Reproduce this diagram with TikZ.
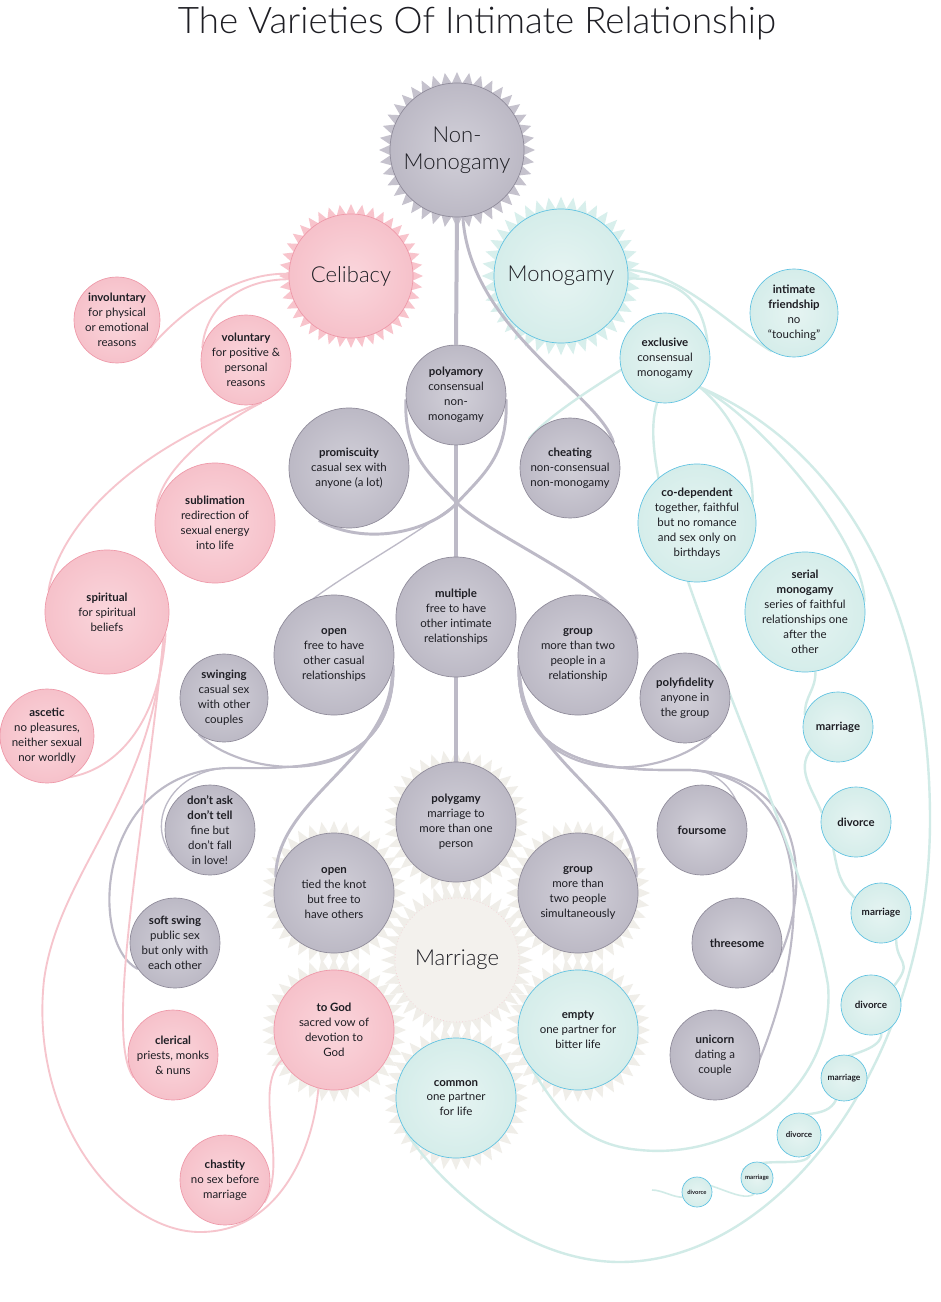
\documentclass[tikz,border=0pt]{standalone}
\usepackage{fontspec}
\setmainfont{Lato}
\newfontfamily\lightfont{Lato Light}
\usetikzlibrary{shapes.geometric}

\definecolor{ink}{HTML}{1E1E24}
\definecolor{grayin}{HTML}{D2D0D9}
\definecolor{grayout}{HTML}{BCB9C5}
\definecolor{grayedge}{HTML}{8E8A99}
\definecolor{grayline}{HTML}{BDBAC7}
\definecolor{grayburst}{HTML}{C5C2CD}
\definecolor{pinkin}{HTML}{FAD6DC}
\definecolor{pinkout}{HTML}{F6C1CA}
\definecolor{pinkedge}{HTML}{EE98A8}
\definecolor{pinkline}{HTML}{F6C5CD}
\definecolor{pinkburst}{HTML}{F8C4CC}
\definecolor{tealin}{HTML}{E6F4F2}
\definecolor{tealout}{HTML}{D5EDEA}
\definecolor{tealedge}{HTML}{5EC2E2}
\definecolor{tealline}{HTML}{D1EBE7}
\definecolor{tealburst}{HTML}{D8EFEC}
\definecolor{beige}{HTML}{F3F1ED}
\definecolor{beigeburst}{HTML}{F0EEE9}

\pgfdeclarelayer{bursts}
\pgfdeclarelayer{links}
\pgfsetlayers{bursts,links,main}

\begin{document}
\begin{tikzpicture}[x=0.75pt,y=-0.75pt,
bub/.style={circle,inner sep=0pt,align=center,text=ink,minimum size=#1*1.5pt,font=\fontsize{8.6}{11.2}\selectfont},
gbub/.style={bub=#1,draw=grayedge,line width=0.5pt,inner color=grayin,outer color=grayout},
pbub/.style={bub=#1,draw=pinkedge,line width=0.5pt,inner color=pinkin,outer color=pinkout},
tbub/.style={bub=#1,draw=tealedge,line width=0.5pt,inner color=tealin,outer color=tealout},
bigtxt/.style={font=\lightfont\fontsize{16.5}{20}\selectfont},
boldtxt/.style={font=\fontsize{#1}{#1}\selectfont\bfseries},
burst/.style={star,star points=40,star point ratio=1.17,inner sep=0pt,draw=none,fill=#1},
gl/.style={draw=grayline,line width=2.2pt},
glt/.style={draw=grayline,line width=1pt},
pl/.style={draw=pinkline,line width=1.4pt},
tl/.style={draw=tealline,line width=1.8pt}]
\useasboundingbox (0,0) rectangle (940,1302);

\node[text=ink,font=\lightfont\fontsize{27.5}{30}\selectfont] (title) at (477,23) {The Varieties Of Intimate Relationship};

% main families
\node[gbub=67,bigtxt] (nonmono) at (457,150) {Non-\\Monogamy};
\node[pbub=62,bigtxt] (celib) at (351,276) {Celibacy};
\node[tbub=67,bigtxt] (mono) at (561,276) {Monogamy};
\node[bub=62,bigtxt,fill=beige,draw=pinkedge!60,dotted,line width=0.4pt] (marr) at (457,960) {Marriage};

% celibacy side
\node[pbub=43] (invol) at (117,320) {\textbf{involuntary}\\for physical\\or emotional\\reasons};
\node[pbub=45] (volun) at (246,360) {\textbf{voluntary}\\for positive \&\\personal\\reasons};
\node[pbub=60] (sublim) at (215,523) {\textbf{sublimation}\\redirection of\\sexual energy\\into life};
\node[pbub=62] (spirit) at (107,612) {\textbf{spiritual}\\for spiritual\\beliefs};
\node[pbub=47] (ascet) at (47,736) {\textbf{ascetic}\\no pleasures,\\neither sexual\\nor worldly};
\node[pbub=60] (god) at (334,1030) {\textbf{to God}\\sacred vow of\\devotion to\\God};
\node[pbub=45] (cleric) at (173,1055) {\textbf{clerical}\\priests, monks\\\& nuns};
\node[pbub=45] (chast) at (225,1180) {\textbf{chastity}\\no sex before\\marriage};

% non-monogamy side
\node[gbub=50] (polyam) at (456,395) {\textbf{polyamory}\\consensual\\non-\\monogamy};
\node[gbub=60] (promis) at (349,468) {\textbf{promiscuity}\\casual sex with\\anyone (a lot)};
\node[gbub=50] (cheat) at (570,468) {\textbf{cheating}\\non-consensual\\non-monogamy};
\node[gbub=60] (multi) at (456,617) {\textbf{multiple}\\free to have\\other intimate\\relationships};
\node[gbub=60] (openA) at (334,655) {\textbf{open}\\free to have\\other casual\\relationships};
\node[gbub=60] (groupA) at (578,655) {\textbf{group}\\more than two\\people in a\\relationship};
\node[gbub=44] (swing) at (224,698) {\textbf{swinging}\\casual sex\\with other\\couples};
\node[gbub=45] (polyfid) at (685,698) {\textbf{polyfidelity}\\anyone in\\the group};
\node[gbub=45] (dadt) at (210,830) {\textbf{don’t ask}\\\textbf{don’t tell}\\fine but\\don’t fall\\in love!};
\node[gbub=60] (polyg) at (456,822) {\textbf{polygamy}\\marriage to\\more than one\\person};
\node[gbub=45] (four) at (702,830) {\textbf{foursome}};
\node[gbub=60] (openB) at (334,893) {\textbf{open}\\tied the knot\\but free to\\have others};
\node[gbub=60] (groupB) at (578,893) {\textbf{group}\\more than\\two people\\simultaneously};
\node[gbub=45] (soft) at (175,943) {\textbf{soft swing}\\public sex\\but only with\\each other};
\node[gbub=45] (three) at (737,943) {\textbf{threesome}};
\node[gbub=45] (unicorn) at (715,1055) {\textbf{unicorn}\\dating a\\couple};

% monogamy side
\node[tbub=44] (friend) at (794,313) {\textbf{intimate}\\\textbf{friendship}\\no\\“touching”};
\node[tbub=45] (exclus) at (665,358) {\textbf{exclusive}\\consensual\\monogamy};
\node[tbub=59] (codep) at (697,523) {\textbf{co-dependent}\\together, faithful\\but no romance\\and sex only on\\birthdays};
\node[tbub=60] (serial) at (805,612) {\textbf{serial}\\\textbf{monogamy}\\series of faithful\\relationships one\\after the\\other};
\node[tbub=60] (empty) at (578,1030) {\textbf{empty}\\one partner for\\bitter life};
\node[tbub=60] (common) at (456,1098) {\textbf{common}\\one partner\\for life};
\node[tbub=35,boldtxt=8.5] (marA) at (838,727) {marriage};
\node[tbub=35,boldtxt=8.5] (divA) at (856,822) {divorce};
\node[tbub=30,boldtxt=7.4] (marB) at (881,913) {marriage};
\node[tbub=30,boldtxt=7.4] (divB) at (871,1005) {divorce};
\node[tbub=23,boldtxt=6.3] (marC) at (844,1078) {marriage};
\node[tbub=22,boldtxt=6] (divC) at (799,1135) {divorce};
\node[tbub=16,boldtxt=4.6] (marD) at (757,1178) {marriage};
\node[tbub=15,boldtxt=4.4] (divD) at (697,1192) {divorce};

\begin{pgfonlayer}{bursts}
\fill[white] (0,0) rectangle (940,1302);
\node[burst=grayburst,minimum size=117pt] at (nonmono) {};
\node[burst=pinkburst,minimum size=108pt] at (celib) {};
\node[burst=tealburst,minimum size=119pt,star point ratio=1.18] at (mono) {};
\foreach \n in {polyg,openB,groupB,god,empty,common}
  \node[burst=beigeburst,minimum size=108pt,star points=36,star point ratio=1.2] at (\n) {};
\node[burst=beigeburst,minimum size=114pt,star point ratio=1.22] at (marr) {};
\end{pgfonlayer}

\begin{pgfonlayer}{links}
\coordinate (cross) at (457,503);
\coordinate (openfork) at (230,768);
\coordinate (groupfork) at (690,770);
\coordinate (pinkbend) at (44,980);
\coordinate (pinkfoot) at (200,1232);
\coordinate (tealright) at (930,820);
\coordinate (tealfoot) at (620,1262);
\coordinate (tealbend) at (828,985);
\coordinate (tealdip) at (640,1150);
\coordinate (tail) at (652,1190);

% non-monogamy links
\draw[gl,line width=3pt] (nonmono.south) -- (polyam.north);
\draw[gl,line width=3pt] (polyam.south) -- (multi.north);
\draw[gl,line width=3pt] (multi.south) -- (polyg.north);
\draw[gl] (nonmono.-85) .. controls +(7,113) and +(-13,-48) .. (cheat.30);
\draw[gl] (polyam.-5) .. controls +(2,55) and +(28,-30) .. (cross) .. controls +(-28,30) and +(45,26) .. (promis.-120);
\draw[gl] (polyam.185) .. controls +(-2,55) and +(-28,-30) .. (cross) .. controls +(35,35) and +(-15,-50) .. (groupA.15);
\draw[glt] (polyam.-5) .. controls +(2,55) and +(28,-30) .. (cross) .. controls +(-50,40) and +(25,-35) .. (openA.155);
\draw[gl,line width=1.6pt] (openA.-10) .. controls +(2,125) and +(50,48) .. (swing.-125);
\draw[glt] (openA.-10) .. controls +(2,110) and +(60,0) .. (openfork) .. controls +(-55,0) and +(-30,-35) .. (dadt.-145);
\draw[glt,line width=1.6pt] (openA.-10) .. controls +(2,110) and +(60,0) .. (openfork) .. controls +(-135,2) and +(-50,-25) .. (soft.-145);
\draw[gl] (openA.-15) .. controls +(0,89) and +(0,-80) .. (openB.165);
\draw[gl,line width=1.6pt] (groupA.190) .. controls +(-2,125) and +(-50,48) .. (polyfid.-55);
\draw[glt] (groupA.190) .. controls +(-2,110) and +(-60,0) .. (groupfork) .. controls +(50,0) and +(35,-30) .. (four.-60);
\draw[glt,line width=1.6pt] (groupA.190) .. controls +(-2,110) and +(-60,0) .. (groupfork) .. controls +(125,5) and +(40,-70) .. (three.-40);
\draw[gl,line width=1.6pt] (groupA.190) .. controls +(-2,110) and +(-60,0) .. (groupfork) .. controls +(145,10) and +(55,-110) .. (unicorn.-45);
\draw[gl] (groupA.195) .. controls +(0,89) and +(0,-80) .. (groupB.15);

% celibacy links
\draw[pl] (celib.178) .. controls +(-50,-2) and +(33,-40) .. (invol.-40);
\draw[pl] (celib.183) .. controls +(-50,0) and +(3,-40) .. (volun.165);
\draw[pl] (volun.-70) .. controls +(-40,20) and +(4,-40) .. (sublim.165);
\draw[pl] (volun.-70) .. controls +(-150,55) and +(8,-50) .. (spirit.160);
\draw[pl] (spirit.-20) .. controls +(-10,150) and +(40,40) .. (ascet.-150);
\draw[pl] (spirit.-25) .. controls +(-10,160) and +(15,-110) .. (pinkbend) .. controls +(-15,140) and +(-80,0) .. (pinkfoot) .. controls +(80,0) and +(-5,60) .. (god.-105);
\draw[pl] (spirit.-25) .. controls +(-20,200) and +(-30,-40) .. (cleric.-150);
\draw[pl] (god.-150) .. controls +(-30,30) and +(25,-40) .. (chast.-30);

% monogamy links
\draw[tl] (mono.5) .. controls +(50,0) and +(-35,-20) .. (friend.-120);
\draw[tl] (mono.-2) .. controls +(55,0) and +(-5,-40) .. (exclus.20);
\draw[tl] (exclus.195) .. controls +(-15,10) and +(20,-25) .. (cheat.145);
\draw[tl] (exclus.-40) .. controls +(30,25) and +(0,-50) .. (codep.20);
\draw[tl] (exclus.-40) .. controls +(60,30) and +(0,-60) .. (serial.10);
\draw[tl] (exclus.-40) .. controls +(140,60) and +(0,-220) .. (tealright) .. controls +(0,240) and +(160,0) .. (tealfoot) .. controls +(-100,0) and +(30,50) .. (common.-150);
\draw[tl] (exclus.-100) .. controls +(-32,98) and +(-28,-165) .. (tealbend) .. controls +(8,100) and +(100,10) .. (tealdip) .. controls +(-60,-5) and +(25,40) .. (empty.-140);
\draw[tl] (serial.-80) .. controls +(0,20) and +(0,-20) .. (marA.160);
\draw[tl] (marA.-140) .. controls +(-15,20) and +(-10,-25) .. (divA.165);
\draw[tl] (divA.-130) .. controls +(5,25) and +(-15,-15) .. (marB.150);
\draw[tl] (marB.-60) .. controls +(0,25) and +(20,-25) .. (divB.40);
\draw[tl] (divB.-70) .. controls +(0,15) and +(30,-10) .. (marC.140);
\draw[tl] (marC.-110) .. controls +(-10,20) and +(20,-15) .. (divC.150);
\draw[tl] (divC.-60) .. controls +(-5,15) and +(20,-15) .. (marD.150);
\draw[tl,line width=1.2pt] (marD.-100) .. controls +(-15,10) and +(20,-10) .. (divD.150);
\draw[tl,line width=1.2pt] (divD.-160) .. controls +(-10,0) and +(10,0) .. (tail);
\end{pgfonlayer}
\end{tikzpicture}
\end{document}
